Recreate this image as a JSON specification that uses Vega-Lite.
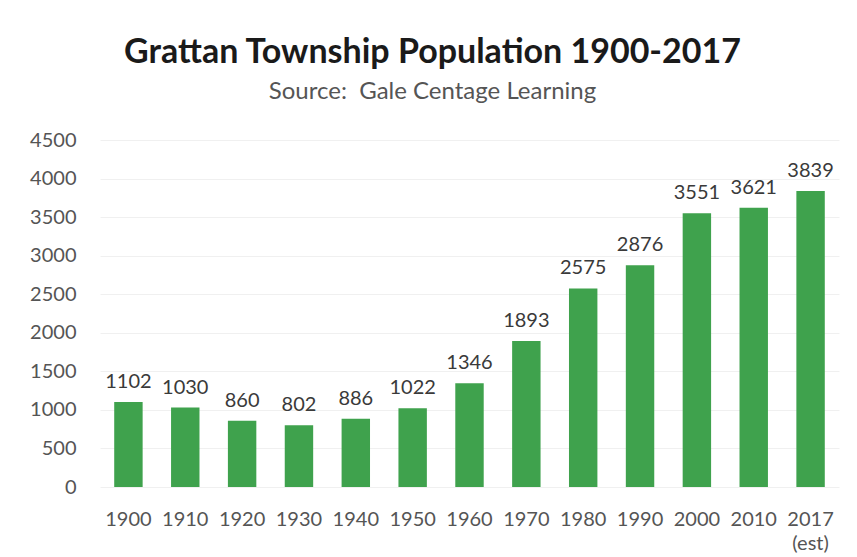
{
  "$schema": "https://vega.github.io/schema/vega-lite/v6.json",
  "autosize": "none",
  "width": 739,
  "height": 347,
  "padding": {"left": 100, "top": 140, "right": 18, "bottom": 70},
  "background": "white",
  "title": {
    "text": "Grattan Township Population 1900-2017",
    "subtitle": "Source:\u00a0 Gale Centage Learning",
    "font": "Lato",
    "fontSize": 34,
    "fontWeight": "bold",
    "color": "#1a1a1a",
    "subtitleFont": "Lato",
    "subtitleFontSize": 24,
    "subtitleColor": "#555555",
    "subtitlePadding": 10,
    "anchor": "middle",
    "dx": -37,
    "offset": 26
  },
  "data": {
    "values": [
      {"year": "1900", "pop": 1102},
      {"year": "1910", "pop": 1030},
      {"year": "1920", "pop": 860},
      {"year": "1930", "pop": 802},
      {"year": "1940", "pop": 886},
      {"year": "1950", "pop": 1022},
      {"year": "1960", "pop": 1346},
      {"year": "1970", "pop": 1893},
      {"year": "1980", "pop": 2575},
      {"year": "1990", "pop": 2876},
      {"year": "2000", "pop": 3551},
      {"year": "2010", "pop": 3621},
      {"year": "2017 (est)", "pop": 3839}
    ]
  },
  "encoding": {
    "x": {
      "field": "year",
      "type": "nominal",
      "sort": null,
      "scale": {"paddingInner": 0.5, "paddingOuter": 0.25},
      "axis": {
        "title": null,
        "labelAngle": 0,
        "labelFont": "Lato",
        "labelFontSize": 20,
        "labelColor": "#555555",
        "labelPadding": 22,
        "labelLineHeight": 24,
        "ticks": false,
        "domain": false,
        "labelExpr": "datum.value == '2017 (est)' ? ['2017', '(est)'] : datum.value"
      }
    },
    "y": {
      "field": "pop",
      "type": "quantitative",
      "scale": {"domain": [0, 4500], "nice": false},
      "axis": {
        "title": null,
        "format": "d",
        "values": [0, 500, 1000, 1500, 2000, 2500, 3000, 3500, 4000, 4500],
        "labelFont": "Lato",
        "labelFontSize": 20,
        "labelColor": "#555555",
        "labelPadding": 24,
        "ticks": false,
        "domain": false,
        "gridColor": "#f0f0f0",
        "gridWidth": 1
      }
    }
  },
  "layer": [
    {
      "mark": {"type": "bar", "color": "#3fa24d"}
    },
    {
      "mark": {
        "type": "text",
        "baseline": "bottom",
        "dy": -10,
        "font": "Lato",
        "fontSize": 20,
        "color": "#3a3a3a"
      },
      "encoding": {"text": {"field": "pop", "type": "quantitative", "format": "d"}}
    }
  ],
  "config": {"view": {"stroke": null}}
}
